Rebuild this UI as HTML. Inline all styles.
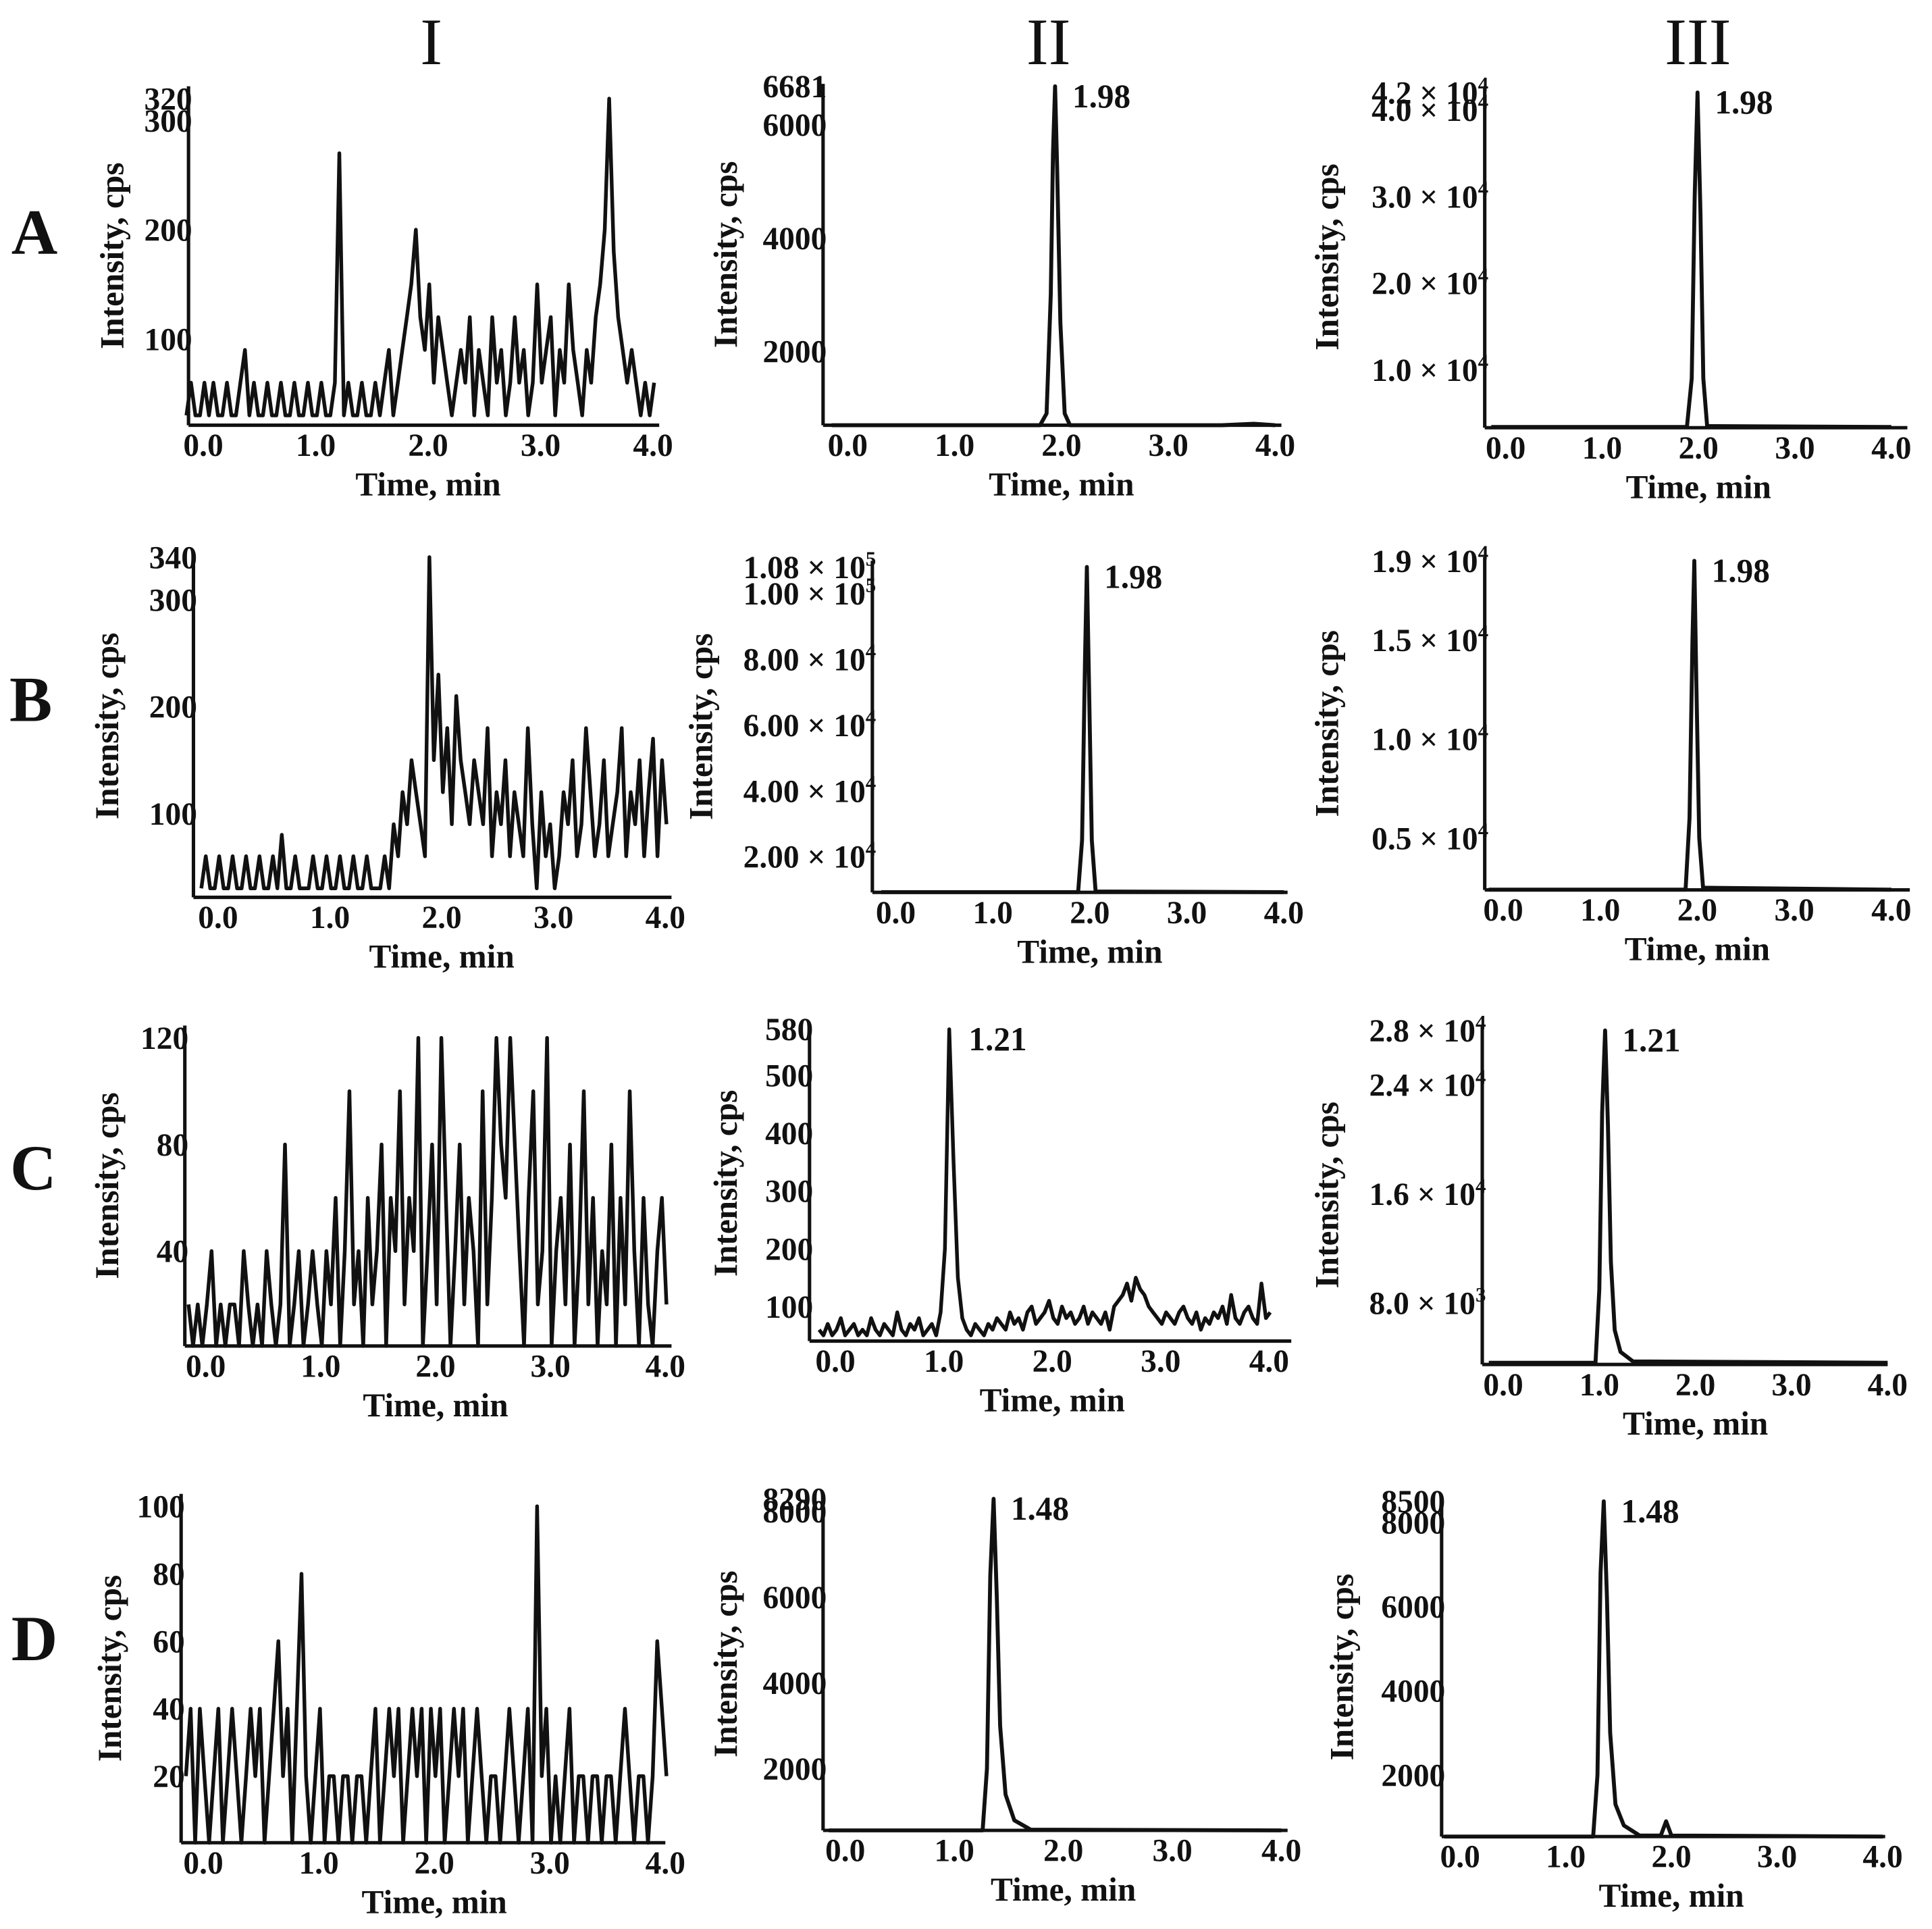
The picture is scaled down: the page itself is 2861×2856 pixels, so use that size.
<!DOCTYPE html>
<html><head><meta charset="utf-8"><style>
html,body{margin:0;padding:0;background:#fff}
svg{display:block}
text{font-family:"Liberation Serif",serif;fill:#111;font-weight:bold}
</style></head><body>
<svg id="fig" width="2861" height="2856" viewBox="0 0 1568 1565" preserveAspectRatio="none" xmlns="http://www.w3.org/2000/svg">
<g id="headers">
<text x="350" y="52" font-size="54" text-anchor="middle" style="font-weight:normal">I</text>
<text x="851" y="52" font-size="54" text-anchor="middle" style="font-weight:normal">II</text>
<text x="1378" y="52" font-size="54" text-anchor="middle" style="font-weight:normal">III</text>
<text x="28" y="206" font-size="52" text-anchor="middle">A</text>
<text x="25" y="585" font-size="52" text-anchor="middle">B</text>
<text x="27" y="965" font-size="52" text-anchor="middle">C</text>
<text x="28" y="1347" font-size="52" text-anchor="middle">D</text>
</g>
</svg>
<script>
// ---- data ----
const xTicks=[0,1,2,3,4];
const xTickLabels=["0.0","1.0","2.0","3.0","4.0"];
const noiseStart=-0.15, noiseStep=0.04;
const aINoise=[30,60,30,30,60,30,60,30,30,60,30,30,60,90,30,60,30,30,60,30,30,60,30,30,60,30,30,60,30,30,60,30,30,60,270,30,60,30,30,60,30,30,60,30,60,90,30,60,90,120,150,200,120,90,150,60,120,90,60,30,60,90,60,120,30,90,60,30,120,60,90,30,60,120,60,90,30,60,150,60,90,120,30,90,60,150,90,60,30,90,60,120,150,200,320,180,120,90,60,90,60,30,60,30,60];
const bINoise=[30,60,30,30,60,30,30,60,30,30,60,30,30,60,30,30,60,30,80,30,30,60,30,30,30,60,30,30,60,30,30,60,30,30,60,30,30,60,30,30,30,60,30,90,60,120,90,150,120,90,60,340,150,230,120,180,90,210,150,120,90,150,120,90,180,60,120,90,150,60,120,90,60,180,90,30,120,60,90,30,60,120,90,150,60,90,180,120,60,90,150,60,90,120,180,60,120,90,150,60,120,170,60,150,90];
const cINoise=[20,0,20,0,20,40,0,20,0,20,20,0,40,20,0,20,0,40,20,0,20,80,0,20,40,0,20,40,20,0,40,20,60,0,40,100,20,40,0,60,20,40,80,0,60,40,100,20,60,40,120,0,40,80,20,120,60,0,40,80,20,60,40,0,100,20,60,120,80,60,120,80,40,0,60,100,20,40,120,0,40,60,20,80,0,40,100,20,60,0,40,20,80,0,60,20,100,40,0,60,20,0,40,60,20];
const cIINoise=[60,50,70,50,60,80,50,60,70,50,60,50,80,60,50,70,60,50,90,60,50,70,60,80,50,60,70,50,90,200,580,350,150,80,60,50,70,60,50,70,60,80,70,60,90,70,80,60,90,100,70,80,90,110,80,70,100,80,90,70,80,100,70,90,80,70,90,60,100,110,120,140,110,150,130,120,100,90,80,70,90,80,70,90,100,80,70,90,60,80,70,90,80,100,70,120,80,70,90,100,80,70,140,80,90];
const dINoise=[20,40,0,40,20,0,20,40,0,20,40,20,0,20,40,20,40,0,20,40,60,20,40,0,40,80,20,0,20,40,0,20,20,0,20,20,0,20,20,0,20,40,0,20,40,20,40,0,20,40,20,40,0,40,20,40,0,20,40,20,40,0,20,40,20,0,20,20,0,20,40,20,0,20,40,0,100,20,40,0,20,0,20,40,0,20,20,0,20,20,0,20,20,0,20,40,20,0,20,20,0,20,60,40,20];
const aIITimes=[-0.15,1.80,1.86,1.90,1.92,1.94,1.96,1.99,2.03,2.08,3.0,3.5,3.8,4.0];
const aIIValues=[620,620,900,3000,5500,6681,5200,2500,900,650,650,660,720,640];
const aIIITimes=[-0.15,1.88,1.93,1.96,1.99,2.02,2.05,2.09,4.0];
const aIIIValues=[3400,3400,9000,30000,42000,28000,9000,3500,3400];
const bIITimes=[-0.15,1.88,1.92,1.95,1.97,1.99,2.02,2.06,4.0];
const bIIValues=[9200,9200,25000,80000,108000,75000,25000,9400,9200];
const bIIITimes=[-0.15,1.88,1.92,1.95,1.97,1.99,2.02,2.06,4.0];
const bIIIValues=[2400,2400,6000,15000,19000,13000,5000,2500,2400];
const cIIITimes=[-0.15,0.96,1.00,1.03,1.06,1.09,1.12,1.16,1.22,1.35,4.0];
const cIIIValues=[3600,3600,9000,22000,28000,21000,11000,6000,4400,3700,3600];
const dIITimes=[-0.15,1.26,1.30,1.33,1.36,1.39,1.42,1.47,1.55,1.7,4.0];
const dIIValues=[560,560,2000,6500,8290,6000,3000,1400,800,580,560];
const dIIITimes=[-0.15,1.26,1.30,1.33,1.36,1.39,1.42,1.47,1.55,1.7,1.9,1.95,2.0,4.0];
const dIIIValues=[530,530,2000,6800,8500,6200,3000,1300,800,560,560,900,560,530];
const aITicks=[100,200,300,320];
const aIITicks=[2000,4000,6000,6681];
const aIIITicks=[10000,20000,30000,40000,42000];
const aIIITickLabels=[["1.0 × 10","4"],["2.0 × 10","4"],["3.0 × 10","4"],["4.0 × 10","4"],["4.2 × 10","4"]];
const bITicks=[100,200,300,340];
const bIITicks=[20000,40000,60000,80000,100000,108000];
const bIITickLabels=[["2.00 × 10","4"],["4.00 × 10","4"],["6.00 × 10","4"],["8.00 × 10","4"],["1.00 × 10","5"],["1.08 × 10","5"]];
const bIIITicks=[5000,10000,15000,19000];
const bIIITickLabels=[["0.5 × 10","4"],["1.0 × 10","4"],["1.5 × 10","4"],["1.9 × 10","4"]];
const cITicks=[40,80,120];
const cIITicks=[100,200,300,400,500,580];
const cIIITicks=[8000,16000,24000,28000];
const cIIITickLabels=[["8.0 × 10","3"],["1.6 × 10","4"],["2.4 × 10","4"],["2.8 × 10","4"]];
const dITicks=[20,40,60,80,100];
const dIITicks=[2000,4000,6000,8000,8290];
const dIIITicks=[2000,4000,6000,8000,8500];

// ---- drawing ----
const NS="http://www.w3.org/2000/svg";
const svg=document.getElementById('fig');
function mk(tag,attrs,parent){const e=document.createElementNS(NS,tag);for(const k in attrs)e.setAttribute(k,attrs[k]);parent.appendChild(e);return e;}

function panel(id,L,times,values,ticks,tickLabels,peakLabel,peakTime,peakValue,yTitleX){
  const g=mk('g',{},svg);
  
  
  const xs=t=>L.x0+(L.x4-L.x0)*t/4;
  const ys=v=>L.py1+(L.py2-L.py1)*(v-L.v1)/(L.v2-L.v1);
  let pts=[];
  for(let i=0;i<values.length;i++){
    const t=times?times[i]:noiseStart+i*noiseStep;
    let y=Math.min(ys(values[i]),L.bottom);
    pts.push(xs(t).toFixed(1)+','+y.toFixed(1));
  }
  const pl=mk('polyline',{points:pts.join(' '),fill:'none',stroke:'#111','stroke-width':times?3.2:3,'stroke-linejoin':'round'},g);
  
  
  const ya=mk('line',{x1:L.ax,y1:L.top,x2:L.ax,y2:L.bottom,stroke:'#111','stroke-width':2.8},g);
  
  
  const xa=mk('line',{x1:L.ax,y1:L.bottom,x2:L.right,y2:L.bottom,stroke:'#111','stroke-width':2.8},g);
  
  
  for(let i=0;i<xTicks.length;i++){
    const t=mk('text',{x:xs(xTicks[i]),y:L.bottom+25,'font-size':26,'text-anchor':'middle'},g);
    t.textContent=xTickLabels[i];
    
    
  }
  const xt=mk('text',{x:(xs(0)+xs(4))/2,y:L.bottom+57,'font-size':27,'text-anchor':'middle'},g);
  xt.textContent='Time, min';
  
  
  for(let i=0;i<ticks.length;i++){
    const y=ys(ticks[i])+9;
    const t=mk('text',{x:L.ax+3,y:y,'font-size':26,'text-anchor':'end'},g);
    if(tickLabels){
      t.appendChild(document.createTextNode(tickLabels[i][0]));
      const s=mk('tspan',{dy:-10,'font-size':17},t);
      s.textContent=tickLabels[i][1];
    } else t.textContent=String(ticks[i]);
    
    
  }
  const cy=(L.top+L.bottom)/2;
  const yt=mk('text',{x:yTitleX,y:cy,'font-size':27,'text-anchor':'middle',transform:'rotate(-90 '+yTitleX+' '+cy+')'},g);
  yt.textContent='Intensity, cps';
  
  
  if(peakLabel){
    const pk=mk('text',{x:xs(peakTime)+14,y:ys(peakValue)+17,'font-size':27},g);
    pk.textContent=peakLabel;
    
    
  }
}
panel('a-i',{ax:153,top:70,bottom:345,right:535,x0:165,x4:530,v1:100,py1:275,v2:320,py2:80},null,aINoise,aITicks,null,null,0,0,100);
panel('a-ii',{ax:668,top:68,bottom:345,right:1040,x0:688,x4:1035,v1:2000,py1:285,v2:6681,py2:70},aIITimes,aIIValues,aIITicks,null,'1.98',1.94,6681,598);
panel('a-iii',{ax:1205,top:70,bottom:347,right:1548,x0:1222,x4:1535,v1:10000,py1:300,v2:42000,py2:75},aIIITimes,aIIIValues,aIIITicks,aIIITickLabels,'1.98',1.99,42000,1086);
panel('b-i',{ax:157,top:450,bottom:728,right:545,x0:177,x4:540,v1:100,py1:660,v2:340,py2:452},null,bINoise,bITicks,null,null,0,0,96);
panel('b-ii',{ax:708,top:455,bottom:724,right:1045,x0:727,x4:1042,v1:20000,py1:695,v2:108000,py2:460},bIITimes,bIIValues,bIITicks,bIITickLabels,'1.98',1.97,108000,578);
panel('b-iii',{ax:1205,top:452,bottom:722,right:1550,x0:1220,x4:1535,v1:5000,py1:680,v2:19000,py2:455},bIIITimes,bIIIValues,bIIITicks,bIIITickLabels,'1.98',1.97,19000,1086);
panel('c-i',{ax:150,top:832,bottom:1092,right:545,x0:167,x4:540,v1:40,py1:1015,v2:120,py2:842},null,cINoise,cITicks,null,null,0,0,96);
panel('c-ii',{ax:657,top:832,bottom:1088,right:1048,x0:678,x4:1030,v1:100,py1:1060,v2:580,py2:835},null,cIINoise,cIITicks,null,'1.21',1.07,580,598);
panel('c-iii',{ax:1203,top:832,bottom:1107,right:1532,x0:1220,x4:1532,v1:8000,py1:1057,v2:28000,py2:836},cIIITimes,cIIIValues,cIIITicks,cIIITickLabels,'1.21',1.06,28000,1086);
panel('d-i',{ax:147,top:1212,bottom:1495,right:540,x0:165,x4:540,v1:20,py1:1441,v2:100,py2:1222},null,dINoise,dITicks,null,null,0,0,98);
panel('d-ii',{ax:668,top:1215,bottom:1485,right:1045,x0:686,x4:1040,v1:2000,py1:1435,v2:8290,py2:1216},dIITimes,dIIValues,dIITicks,null,'1.48',1.36,8290,598);
panel('d-iii',{ax:1170,top:1215,bottom:1490,right:1530,x0:1185,x4:1528,v1:2000,py1:1440,v2:8500,py2:1218},dIIITimes,dIIIValues,dIIITicks,null,'1.48',1.36,8500,1098);
</script>
</body></html>
